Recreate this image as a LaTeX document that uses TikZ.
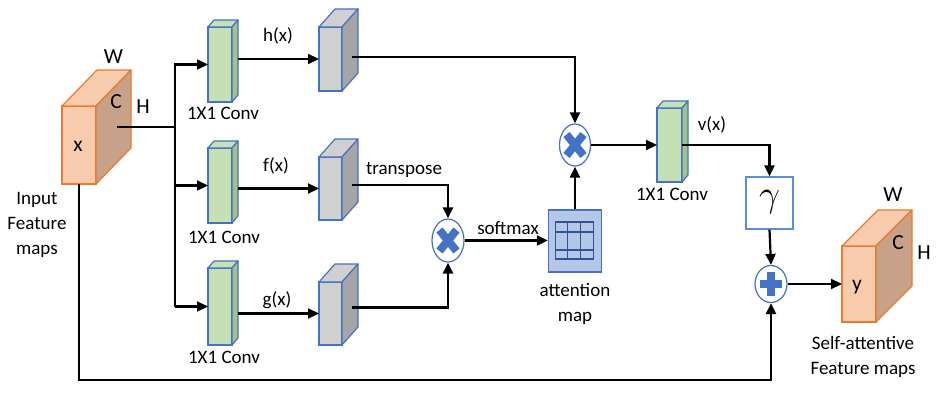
\documentclass[tikz,border=0pt]{standalone}
\usepackage{fontspec}
\setmainfont{Carlito}
\usetikzlibrary{arrows.meta,calc,shapes.geometric}
\definecolor{orF}{HTML}{F8CBAD}
\definecolor{orS}{HTML}{C8A189}
\definecolor{orB}{HTML}{E97A30}
\definecolor{grF}{HTML}{C5E0B4}
\definecolor{grS}{HTML}{A2C488}
\definecolor{gyF}{HTML}{D0D0D0}
\definecolor{gyS}{HTML}{A5A5A5}
\definecolor{bl}{HTML}{4472C4}
\definecolor{blL}{HTML}{5B8FD5}
\definecolor{attF}{HTML}{B4C7E7}
\definecolor{attG}{HTML}{2F5597}

\newcommand\cuboid[9]{%
  \node[draw=#7, fill=#8, line width=1.2pt, minimum width=#3pt, minimum height=#4pt, inner sep=0pt, outer sep=0pt] (#1) at #2 {};
  \filldraw[draw=#7, fill=#8, line width=1.2pt, line join=round] (#1.north west) -- ++(#5,#6) -- ++(#3,0) -- (#1.north east) -- cycle;
  \filldraw[draw=#7, fill=#9, line width=1.2pt, line join=round] (#1.north east) -- ++(#5,#6) -- ++(0,#4) -- (#1.south east) -- cycle;
  \coordinate (#1-b) at ($(#1.east)+(#5,0)$);
}
\newcommand\mulsign[1]{%
  \draw[bl, line width=8pt] ($(#1)+(-8.5,-10.5)$) -- ($(#1)+(8.5,10.5)$) ($(#1)+(-8.5,10.5)$) -- ($(#1)+(8.5,-10.5)$);
}

\begin{document}
\begin{tikzpicture}[x=1pt,y=-1pt,
  conn/.style={line width=2.2pt, -{Triangle[length=11pt,width=10pt]}},
  plain/.style={line width=2.2pt},
  lbl/.style={font=\fontsize{19}{25}\selectfont, inner sep=0pt, align=center},
  big/.style={font=\fontsize{21.5}{24}\selectfont, inner sep=0pt},
  opnode/.style={draw=bl, fill=white, ellipse, line width=1.2pt, inner sep=0pt}]
\useasboundingbox (0,0) rectangle (936,396);

% cuboids
\cuboid{xb}{(79,145)}{34}{78}{35}{-36}{orB}{orF}{orS}
\cuboid{yb}{(859,284)}{34}{76}{36}{-36}{orB}{orF}{orS}
\cuboid{hc}{(220,64.5)}{24}{75}{6}{-7}{bl}{grF}{grS}
\cuboid{fc}{(220,185.5)}{24}{75}{6}{-7}{bl}{grF}{grS}
\cuboid{gc}{(220,306.5)}{24}{77}{6}{-7}{bl}{grF}{grS}
\cuboid{vc}{(669.5,145)}{25}{74}{6}{-7}{bl}{grF}{grS}
\cuboid{hg}{(330.5,59)}{23}{64}{16}{-18}{bl}{gyF}{gyS}
\cuboid{fg}{(330.5,188.5)}{23}{63}{16}{-18}{bl}{gyF}{gyS}
\cuboid{gg}{(330.5,313.5)}{23}{63}{16}{-18}{bl}{gyF}{gyS}

% cuboid labels
\node[big] (xW) at (113.5,57) {W};
\node[big] (xC) at (116,102) {C};
\node[big] (xH) at (143,107) {H};
\node[big] (xx) at (78,146) {x};
\node[big] (yW) at (893,195) {W};
\node[big] (yC) at (898,243) {C};
\node[big] (yH) at (924,253) {H};
\node[big] (yy) at (857,287) {y};

% operators
\node[opnode, minimum width=31pt, minimum height=42pt] (m1) at (575,145) {};
\mulsign{m1}
\node[opnode, minimum width=32pt, minimum height=43pt] (m2) at (448,240.5) {};
\mulsign{m2}
\node[opnode, minimum width=32pt, minimum height=37pt] (pl) at (771,284) {};
\draw[bl, line width=8pt] ($(pl)+(-11,0)$) -- ($(pl)+(11,0)$) ($(pl)+(0,-12)$) -- ($(pl)+(0,12)$);

\node[draw=blL, line width=1.2pt, minimum width=47pt, minimum height=52pt, inner sep=0pt] (gam) at (769.5,203) {};
\node[font=\fontsize{24}{26}\selectfont, inner sep=0pt, scale=1.5] (gsym) at ($(gam.center)+(0,-1)$) {$\gamma$};

% attention map
\node[draw=bl, fill=attF, line width=1.4pt, minimum width=53pt, minimum height=62pt, inner sep=0pt] (att) at (575,241) {};
\draw[attG, line width=1.1pt]
  ($(att.center)+(-19.5,-19)$) rectangle ($(att.center)+(18.5,18)$)
  ($(att.center)+(-7.5,-19)$) -- ($(att.center)+(-7.5,18)$)
  ($(att.center)+(5.5,-19)$) -- ($(att.center)+(5.5,18)$)
  ($(att.center)+(-19.5,-9)$) -- ($(att.center)+(18.5,-9)$)
  ($(att.center)+(-19.5,9)$) -- ($(att.center)+(18.5,9)$);

% helper coordinates
\coordinate (xout) at ($(xb.east)+(21,-18)$);
\coordinate (tr) at (175,127);
\coordinate (hgo) at ($(hg.east)+(10,-2)$);
\coordinate (fgo) at ($(fg.east)+(10,-3.5)$);
\coordinate (ggo) at ($(gg.east)+(10,-6)$);
\coordinate (bot) at (0,380);

% connectors
\draw[plain] (xout) -- (tr);
\draw[conn] (tr |- gc.west) |- (hc.west);
\draw[conn] (tr |- fc.west) -- (fc.west);
\draw[conn] (tr |- gc.west) -- (gc.west);
\draw[conn] (hc-b |- hg.west) -- (hg.west);
\draw[conn] (fc-b |- fg.west) -- (fg.west);
\draw[conn] (gc-b |- gg.west) -- (gg.west);
\draw[conn] (hgo) -| (m1.north);
\draw[conn] (fgo) -| (m2.north);
\draw[conn] (ggo) -| (m2.south);
\draw[conn] (m2.east) -- (att.west |- m2.east);
\draw[conn] (att.north) -- (m1.south);
\draw[conn] (m1.east) -- (vc.west);
\draw[conn] (vc.east) -| (gam.north);
\draw[conn] (gam.south) -- (pl.north);
\draw[conn] (pl.east) -- (yb.west);
\draw[conn] (xb.south) -- (xb.south |- bot) -| (pl.south);

% text labels
\node[lbl] (lh) at (278,36) {h(x)};
\node[lbl] (lf) at (276,166) {f(x)};
\node[lbl] (lg) at (277,300) {g(x)};
\node[lbl] (c1) at (223,113.5) {1X1 Conv};
\node[lbl] (c2) at (224,237) {1X1 Conv};
\node[lbl] (c3) at (224,357) {1X1 Conv};
\node[lbl] (c4) at (672,194) {1X1 Conv};
\node[lbl] (ltr) at (404,170) {transpose};
\node[lbl] (lsm) at (508,228) {softmax};
\node[lbl] (lv) at (712,125) {v(x)};
\node[lbl] (latt) at (575,304) {attention\\map};
\node[lbl] (lin) at (37,225) {Input\\Feature\\maps};
\node[lbl] (lout) at (863,357) {Self-attentive\\Feature maps};
\end{tikzpicture}
\end{document}
